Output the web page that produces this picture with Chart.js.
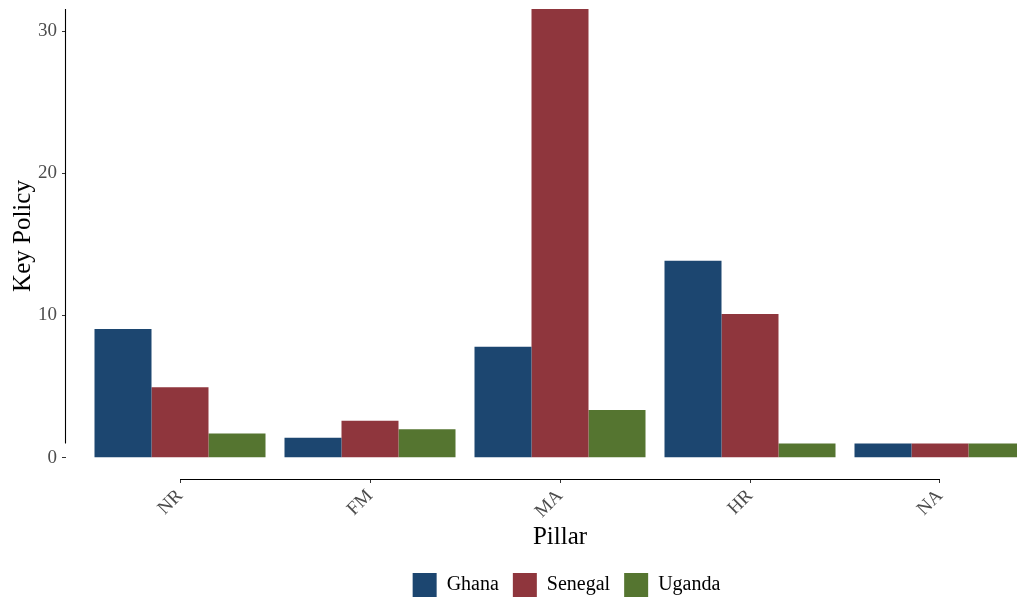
<!DOCTYPE html>
<html>
<head>
<meta charset="utf-8">
<script src="https://cdn.jsdelivr.net/npm/chart.js@4"></script>
<style>
  body { margin: 0; background: #fff; overflow: hidden; }
  #wrap { width: 1133px; height: 601px; position: relative; }
</style>
</head>
<body>
<div id="wrap"><canvas id="pillarChart"></canvas></div>
<script>
const categories = ['NR', 'FM', 'MA', 'HR', 'NA'];
const ghana   = [9.05, 1.4, 7.8, 13.85, 1];
const senegal = [4.95, 2.6, 42, 10.1, 1];
const uganda  = [1.7, 2.0, 3.35, 1, 1];
const yTicks  = [0, 10, 20, 30];

const serif = "'Liberation Serif', 'DejaVu Serif', serif";
const step = 190; // px per category
const plotLeft = 66;
const wrapWidth = 1133;

function points(arr) {
    return arr.map((v, i) => ({ x: i + 1, y: v }));
}

// axes lines + titles drawn like the ggplot theme (capped axes)
const axisDecor = {
    id: 'axisDecor',
    afterDraw(chart) {
        const c = chart.ctx;
        const x = chart.scales.x, y = chart.scales.y;
        const bottom = Math.round(chart.chartArea.bottom) + 0.5;
        c.save();
        c.strokeStyle = '#000';
        c.lineWidth = 1.1;
        c.beginPath();
        c.moveTo(65.5, chart.chartArea.top);
        c.lineTo(65.5, y.getPixelForValue(1));
        c.stroke();
        c.beginPath();
        c.moveTo(x.getPixelForValue(1), bottom);
        c.lineTo(x.getPixelForValue(5), bottom);
        c.stroke();

        c.fillStyle = '#000';
        c.font = '25px ' + serif;
        c.textAlign = 'center';
        c.textBaseline = 'alphabetic';
        c.fillText('Pillar', x.getPixelForValue(3), 544);
        c.translate(30, 236);
        c.rotate(-Math.PI / 2);
        c.fillText('Key Policy', 0, 0);
        c.restore();
    }
};

const ctx = document.getElementById('pillarChart').getContext('2d');
const myChart = new Chart(ctx, {
    type: 'bar',
    data: {
        datasets: [
            { label: 'Ghana', data: points(ghana), backgroundColor: '#1c4670' },
            { label: 'Senegal', data: points(senegal), backgroundColor: '#8f363d' },
            { label: 'Uganda', data: points(uganda), backgroundColor: '#557530' }
        ]
    },
    options: {
        responsive: true,
        maintainAspectRatio: false,
        animation: false,
        layout: { padding: { top: 9, left: 0, right: 0, bottom: -6 } },
        datasets: { bar: { categoryPercentage: 0.9, barPercentage: 1, borderWidth: 0 } },
        plugins: {
            tooltip: { enabled: false },
            legend: {
                position: 'bottom',
                labels: {
                    boxWidth: 24,
                    boxHeight: 24,
                    padding: 14,
                    color: '#000',
                    font: { family: serif, size: 20 }
                }
            }
        },
        scales: {
            x: {
                type: 'linear',
                offset: false,
                min: 0.4,
                max: 0.4 + (wrapWidth - plotLeft) / step,
                border: { display: false },
                grid: { offset: false, drawOnChartArea: false, tickLength: 4, tickColor: '#333', tickWidth: 1 },
                ticks: {
                    color: '#4d4d4d',
                    font: { family: serif, size: 19 },
                    minRotation: 45,
                    maxRotation: 45,
                    autoSkip: false,
                    padding: 2,
                    callback: v => categories[v - 1]
                },
                afterBuildTicks: s => { s.ticks = categories.map((c, i) => ({ value: i + 1 })); },
                afterFit: s => { s.height = 80; }
            },
            y: {
                min: -1.5,
                max: 31.55,
                border: { display: false },
                grid: { drawOnChartArea: false, tickLength: 4, tickColor: '#333', tickWidth: 1 },
                ticks: {
                    color: '#4d4d4d',
                    font: { family: serif, size: 19 },
                    padding: 5
                },
                afterBuildTicks: s => { s.ticks = yTicks.map(v => ({ value: v })); },
                afterFit: s => {
                    s.width = plotLeft;
                    s.paddingTop = 0;
                    s.paddingBottom = 0;
                }
            }
        }
    },
    plugins: [axisDecor]
});
</script>
</body>
</html>
